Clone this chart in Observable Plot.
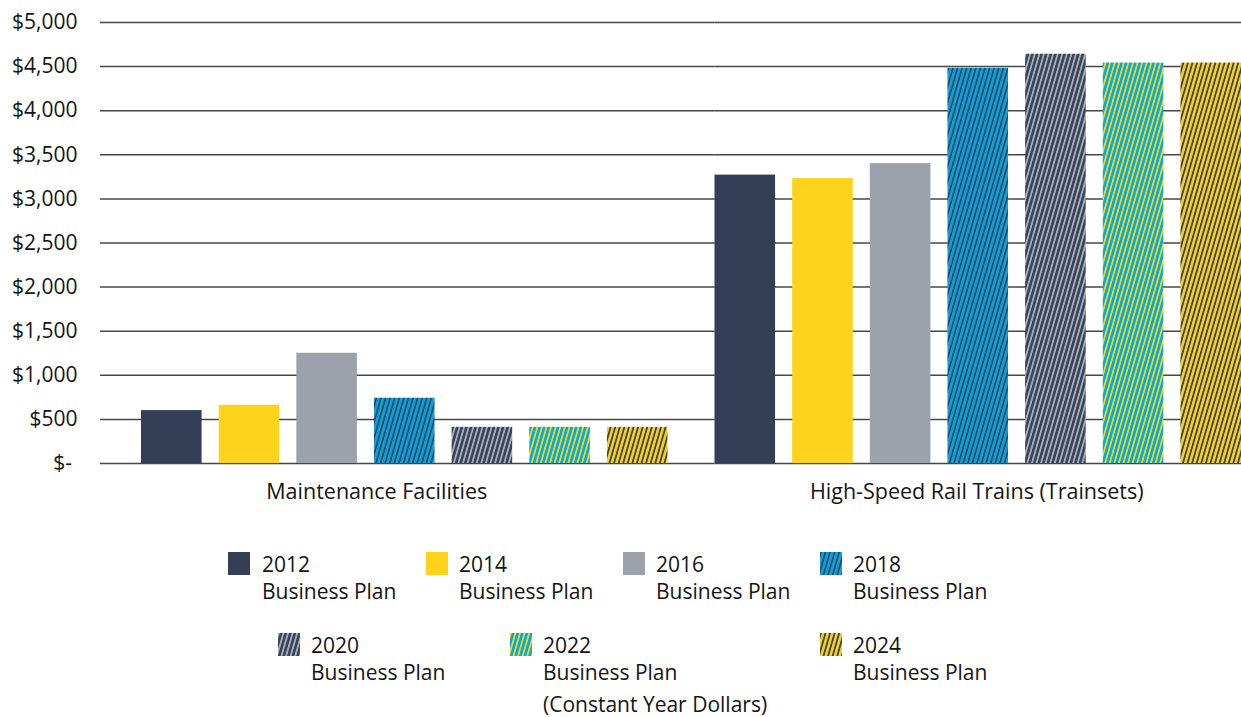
<!DOCTYPE html>
<html>
<head>
<meta charset="utf-8">
<script src="https://cdn.jsdelivr.net/npm/d3@7"></script>
<script src="https://cdn.jsdelivr.net/npm/@observablehq/plot@0.6"></script>
<style>
  html, body { margin: 0; padding: 0; background: #fff; }
  #wrap { position: relative; width: 1241px; height: 717px; overflow: hidden; font-family: "Open Sans", sans-serif; color: #141414; }
  #chart { position: absolute; left: 0; top: 0; }
  .sw { position: absolute; width: 22px; height: 23px; }
  .txt { position: absolute; font-size: 21px; line-height: 27px; white-space: nowrap; color: #141414; }
</style>
</head>
<body>
<svg width="0" height="0" style="position:absolute">
  <defs>
    <pattern id="h2018" patternUnits="userSpaceOnUse" width="4.4" height="10" patternTransform="rotate(16)">
      <rect width="4.4" height="10" fill="#02a5e1"/>
      <rect width="2.1" height="10" fill="#38455c" shape-rendering="crispEdges"/>
    </pattern>
    <pattern id="h2020" patternUnits="userSpaceOnUse" width="4.4" height="10" patternTransform="rotate(16)">
      <rect width="4.4" height="10" fill="#3b4559"/>
      <rect width="1.7" height="10" fill="#a7afbf" shape-rendering="crispEdges"/>
    </pattern>
    <pattern id="h2022" patternUnits="userSpaceOnUse" width="4.4" height="10" patternTransform="rotate(16)">
      <rect width="4.4" height="10" fill="#00aae6"/>
      <rect width="1.7" height="10" fill="#fad511" shape-rendering="crispEdges"/>
    </pattern>
    <pattern id="h2024" patternUnits="userSpaceOnUse" width="4.4" height="10" patternTransform="rotate(16)">
      <rect width="4.4" height="10" fill="#f8d016"/>
      <rect width="2.1" height="10" fill="#39425a" shape-rendering="crispEdges"/>
    </pattern>
  </defs>
</svg>
<div id="wrap">
  <div id="chart"></div>
  <div id="legend"></div>
</div>
<script>
// ---- data ----
const groups = ["Maintenance Facilities", "High-Speed Rail Trains (Trainsets)"];
const plans = ["2012", "2014", "2016", "2018", "2020", "2022", "2024"];
const planLabels = [
  ["2012", "Business Plan"],
  ["2014", "Business Plan"],
  ["2016", "Business Plan"],
  ["2018", "Business Plan"],
  ["2020", "Business Plan"],
  ["2022", "Business Plan", "(Constant Year Dollars)"],
  ["2024", "Business Plan"]
];
const maintenanceValues = [600, 660, 1250, 740, 410, 410, 410];
const trainsetValues = [3270, 3230, 3400, 4480, 4640, 4540, 4540];
const yTicks = [0, 500, 1000, 1500, 2000, 2500, 3000, 3500, 4000, 4500, 5000];

// ---- styles ----
const planFills = ["#333f56", "#fdd31b", "#9da1ab", "url(#h2018)", "url(#h2020)", "url(#h2022)", "url(#h2024)"];

const rows = [];
plans.forEach((p, i) => {
  rows.push({group: groups[0], plan: p, value: maintenanceValues[i]});
  rows.push({group: groups[1], plan: p, value: trainsetValues[i]});
});

const fmt = d => d === 0 ? "$-\u00a0" : "$" + d3.format(",")(d);

const chart = Plot.plot({
  width: 1241,
  height: 520,
  marginLeft: 100,
  marginRight: 0,
  marginTop: 22,
  marginBottom: 57,
  style: {fontFamily: "'Open Sans', sans-serif", background: "transparent", overflow: "hidden"},
  fx: {domain: groups, paddingInner: 0.08195, paddingOuter: 0.03575, align: 1, round: false, label: null, axis: null},
  x: {domain: plans, paddingInner: 0.22, paddingOuter: 0, round: false, axis: null},
  y: {domain: [0, 5000], axis: null},
  color: {domain: plans, range: planFills},
  marks: [
    Plot.ruleY(yTicks, {y: d => d, fx: () => groups[0], stroke: "#474747", strokeWidth: 1.5, insetLeft: -41, insetRight: -47}),
    Plot.ruleY(yTicks, {y: d => d, fx: () => groups[1], stroke: "#474747", strokeWidth: 1.5, insetRight: -4}),
    Plot.axisY(yTicks, {anchor: "left", tickSize: 0, tickPadding: 64, tickFormat: fmt, fontSize: 21, color: "#141414", label: null}),
    Plot.barY(rows, {fx: "group", x: "plan", y: "value", fill: "plan"}),
    Plot.text([groups[0]], {fx: d => d, text: d => d, frameAnchor: "bottom", dy: 35, dx: -28, fontSize: 21.5, fill: "#141414"}),
    Plot.text([groups[1]], {fx: d => d, text: d => d, frameAnchor: "bottom", dy: 35, dx: -1.5, fontSize: 21.5, fill: "#141414"})
  ]
});
document.getElementById("chart").appendChild(chart);

// ---- legend (HTML) ----
const legendPos = [
  {sx: 228, tx: 262, top: 552},
  {sx: 426, tx: 459, top: 552},
  {sx: 623, tx: 656, top: 552},
  {sx: 820, tx: 853, top: 552},
  {sx: 278, tx: 311, top: 633},
  {sx: 510, tx: 543, top: 633},
  {sx: 820, tx: 853, top: 633}
];
const legend = document.getElementById("legend");
plans.forEach((p, i) => {
  const pos = legendPos[i];
  const sw = document.createElementNS("http://www.w3.org/2000/svg", "svg");
  sw.setAttribute("class", "sw");
  sw.setAttribute("width", 22);
  sw.setAttribute("height", 23);
  sw.style.left = pos.sx + "px";
  sw.style.top = pos.top + "px";
  const r = document.createElementNS("http://www.w3.org/2000/svg", "rect");
  r.setAttribute("width", 22);
  r.setAttribute("height", 23);
  r.setAttribute("fill", planFills[i]);
  sw.appendChild(r);
  legend.appendChild(sw);
  const t = document.createElement("div");
  t.className = "txt";
  t.style.left = pos.tx + "px";
  t.style.top = (pos.top - 1) + "px";
  planLabels[i].forEach((line, j) => {
    const d = document.createElement("div");
    d.textContent = line;
    if (j === 2) d.style.marginTop = "5px";
    t.appendChild(d);
  });
  legend.appendChild(t);
});
</script>
</body>
</html>
